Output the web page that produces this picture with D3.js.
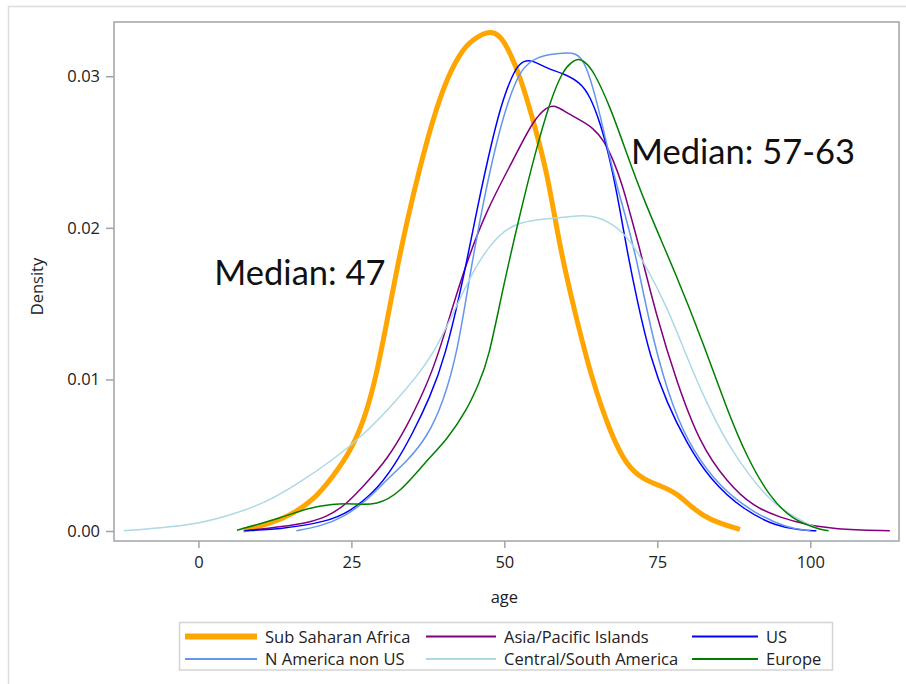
<!DOCTYPE html>
<html><head><meta charset="utf-8">
<script src="https://cdn.jsdelivr.net/npm/d3@7"></script>
<style>
html,body{margin:0;padding:0;background:#fff;}
svg{display:block;}
</style></head>
<body><svg id="chart" width="906" height="684"></svg>
<script>
// ---- data (age, density) ----
const seriesNames = ["Sub Saharan Africa","Asia/Pacific Islands","US","N America non US","Central/South America","Europe"];
const seriesColors = ["#FFA500","#800080","#0000FF","#6495ED","#ADD8E6","#008000"];
const seriesWidths = [5,1.5,1.5,1.5,1.5,1.5];

const subSaharanAfrica = [[7.3,0.00005],[13.8,0.0007],[18.8,0.002],[22,0.0036],[25.1,0.0054],[27.5,0.0078],[29.2,0.0105],[30.8,0.0138],[32.4,0.0172],[34,0.0203],[36.2,0.0240],[38.2,0.0270],[40.6,0.0299],[43.3,0.0319],[45.5,0.0326],[47.7,0.0330],[49.2,0.0327],[50.4,0.0320],[52.6,0.0300],[54.7,0.0271],[57,0.0237],[59.1,0.0186],[61.6,0.0143],[64.3,0.0100],[67.4,0.0064],[70,0.0043],[72.7,0.0034],[75.4,0.0030],[78.2,0.0025],[80.8,0.0015],[83.6,0.0007],[88.5,0.0001]];
const asiaPacific = [[8,0.00003],[16.6,0.0004],[21,0.0009],[24.3,0.0018],[27.5,0.0032],[30.8,0.0047],[34.1,0.0069],[36.8,0.0092],[39,0.0113],[43.3,0.0172],[47.1,0.0212],[51.5,0.0245],[54.7,0.0271],[57,0.0280],[58.2,0.0281],[60.2,0.0276],[62.4,0.0271],[64.5,0.0266],[66.2,0.0258],[67.8,0.0245],[69.4,0.0227],[70.5,0.0210],[71.7,0.0193],[74.9,0.0141],[78.2,0.0098],[81.9,0.0058],[86.4,0.0032],[90.7,0.0016],[95,0.0009],[99.5,0.0004],[103.7,0.00013],[113,0.00001]];
const usSeries = [[7.5,0.00002],[13,0.0001],[21,0.0006],[24.8,0.0013],[28.6,0.0025],[31.9,0.0042],[35.1,0.0065],[37.8,0.0088],[40.2,0.0113],[43.3,0.0166],[45.7,0.0216],[48,0.0258],[49.8,0.0286],[52,0.0307],[53.2,0.0310],[54.4,0.0311],[57,0.0305],[59.6,0.0302],[62.4,0.0296],[64,0.0287],[65.7,0.0269],[67.3,0.0245],[69,0.0210],[70,0.0186],[71.7,0.0152],[73.8,0.0115],[76.6,0.0084],[79.8,0.0058],[83.6,0.0034],[89,0.0014],[94.5,0.0003],[98.3,0.00007],[101,0.00001]];
const nAmericaNonUS = [[16,0.00002],[19.9,0.0003],[23.7,0.0009],[27.5,0.002],[30.8,0.0034],[34.1,0.0046],[37.4,0.0062],[40,0.0085],[42.3,0.0117],[44.4,0.0170],[46.5,0.0216],[48.5,0.0253],[50.3,0.0280],[52.6,0.0305],[55.3,0.0313],[58.6,0.0315],[61.2,0.0316],[62.9,0.0312],[64.5,0.0293],[66.2,0.0265],[67.8,0.0236],[70,0.0205],[71.7,0.0178],[74.3,0.0125],[77.6,0.008],[80.8,0.0053],[85.2,0.0029],[90.7,0.0012],[96.2,0.0002],[100,0.00001]];
const centralSouthAmerica = [[-12.2,0.00002],[-6.3,0.0002],[0.3,0.0005],[5.7,0.0011],[11.2,0.0019],[16.6,0.0032],[22,0.0047],[26.9,0.0063],[31.9,0.0084],[35.7,0.0102],[38.4,0.0117],[41.7,0.0144],[45.5,0.0177],[49.3,0.0197],[52.6,0.0204],[57,0.0206],[60,0.0207],[64,0.0209],[67.8,0.0203],[70.5,0.0192],[72.7,0.0178],[76.6,0.0148],[79.8,0.0115],[83.1,0.0084],[86.4,0.0058],[90.1,0.0036],[93.9,0.0018],[98.3,0.0007],[101.6,0.0001]];
const europe = [[6.3,0.00005],[13.8,0.0009],[17.7,0.0015],[22,0.0018],[25.3,0.0018],[29.2,0.0017],[32.9,0.0025],[37.4,0.0047],[40.6,0.006],[43.9,0.0080],[45.8,0.0097],[47.4,0.0113],[49.8,0.0161],[52.6,0.0210],[55,0.0249],[57.5,0.0284],[59.6,0.0304],[60.9,0.0309],[62.1,0.0312],[63.3,0.0309],[64.5,0.0304],[67.3,0.0280],[70,0.0249],[72.7,0.0219],[78.2,0.0168],[82.5,0.0124],[86.4,0.008],[89.6,0.0049],[93.4,0.0022],[97.2,0.0007],[101.6,0.0001],[103,0.00002]];
const seriesData = [subSaharanAfrica, asiaPacific, usSeries, nAmericaNonUS, centralSouthAmerica, europe];

const xTicks = [0,25,50,75,100];
const yTicks = [0,0.01,0.02,0.03];
const annotations = [{text:"Median: 47", age:2.6, density:0.01620},{text:"Median: 57-63", age:70.7, density:0.02424}];

// ---- layout ----
const svg = d3.select("#chart");
const plot = {left:114, top:22, right:899, bottom:541};
const x = d3.scaleLinear().domain([-13.8,114.5]).range([plot.left, plot.right]);
const y = d3.scaleLinear().domain([-0.00066,0.03358]).range([plot.bottom, plot.top]);
const FONT = "'Open Sans', sans-serif";

// outer frame
svg.append("rect").attr("x",8.5).attr("y",6.5).attr("width",920).attr("height",700)
  .attr("fill","none").attr("stroke","#dcdcdc").attr("stroke-width",1.5);

// clip
svg.append("defs").append("clipPath").attr("id","clip").append("rect")
  .attr("x",plot.left).attr("y",plot.top).attr("width",plot.right-plot.left).attr("height",plot.bottom-plot.top);

// axes
const xAxis = d3.axisBottom(x).tickValues(xTicks).tickSize(7).tickPadding(8).tickFormat(d3.format("d"));
const yAxis = d3.axisLeft(y).tickValues(yTicks).tickSize(8).tickPadding(6).tickFormat(d3.format(".2f"));
const gx = svg.append("g").attr("transform",`translate(0,${plot.bottom})`).call(xAxis);
const gy = svg.append("g").attr("transform",`translate(${plot.left},0)`).call(yAxis);
[gx,gy].forEach(g=>{
  g.select(".domain").remove();
  g.selectAll(".tick line").attr("stroke","#a0a4a8").attr("stroke-width",1.5);
  g.selectAll(".tick text").attr("fill","#222").style("font-family",FONT).style("font-size","16.5px");
});

// frame
svg.append("rect").attr("x",plot.left).attr("y",plot.top).attr("width",plot.right-plot.left).attr("height",plot.bottom-plot.top)
  .attr("fill","none").attr("stroke","#a0a4a8").attr("stroke-width",1.5);

// lines
const line = d3.line().x(d=>x(d[0])).y(d=>y(d[1])).curve(d3.curveBasis);
const lg = svg.append("g").attr("clip-path","url(#clip)");
seriesData.forEach((s,i)=>{
  lg.append("path").datum(s).attr("d",line).attr("fill","none")
    .attr("stroke",seriesColors[i]).attr("stroke-width",seriesWidths[i])
    .attr("stroke-linejoin","round").attr("stroke-linecap","butt");
});

// annotations
annotations.forEach(a=>{
  svg.append("text").attr("x",x(a.age)).attr("y",y(a.density)).text(a.text)
    .style("font-family","Lato, sans-serif").style("font-size","34.5px").attr("fill","#111");
});

// axis labels
svg.append("text").attr("x",x(50)).attr("y",603).attr("text-anchor","middle").text("age")
  .style("font-family",FONT).style("font-size","16.5px").attr("fill","#222");
svg.append("text").attr("transform",`translate(43,${(plot.top+plot.bottom)/2+5}) rotate(-90)`).attr("text-anchor","middle").text("Density")
  .style("font-family",FONT).style("font-size","16.5px").attr("fill","#222");

// legend
const legend = svg.append("g");
legend.append("rect").attr("x",179.5).attr("y",622.5).attr("width",653).attr("height",47.5)
  .attr("fill","none").attr("stroke","#d4d4d4").attr("stroke-width",1.5);
const colX = [185,426,692];
const swW = [72,70,66];
const rowY = [636.5,659];
seriesNames.forEach((n,i)=>{
  const c = i%3, r = Math.floor(i/3);
  const g = legend.append("g");
  g.append("line").attr("x1",colX[c]).attr("x2",colX[c]+swW[c]).attr("y1",rowY[r]).attr("y2",rowY[r])
    .attr("stroke",seriesColors[i]).attr("stroke-width",seriesWidths[i]+ (i===0?1:0.5));
  g.append("text").attr("x",colX[c]+swW[c]+8).attr("y",rowY[r]+6).text(n)
    .style("font-family",FONT).style("font-size","16.5px").attr("fill","#222");
});
</script></body></html>
